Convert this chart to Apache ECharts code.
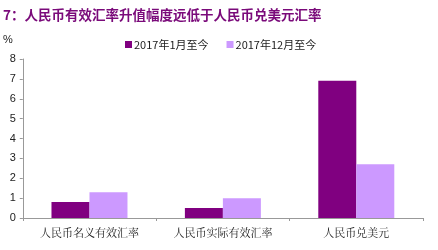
<!DOCTYPE html>
<html><head><meta charset="utf-8">
<script src="https://cdn.jsdelivr.net/npm/echarts@6/dist/echarts.min.js"></script>
<style>html,body{margin:0;padding:0;background:#fff}#c{width:438px;height:250px}</style>
</head><body><div id="c"></div>
<script>
const titleText = '7：人民币有效汇率升值幅度远低于人民币兑美元汇率';
const categories = ['人民币名义有效汇率', '人民币实际有效汇率', '人民币兑美元'];
const seriesNames = ['2017年1月至今', '2017年12月至今'];
const sinceJan2017 = [0.8, 0.5, 6.9];
const sinceDec2017 = [1.3, 1.0, 2.7];
const yTicks = [0, 1, 2, 3, 4, 5, 6, 7, 8];

const chart = echarts.init(document.getElementById('c'), null, {renderer: 'canvas'});
chart.setOption({
  animation: false,
  title: {
    text: titleText, left: -2, top: 3,
    textStyle: {color: '#7a0a7a', fontSize: 13.5, fontWeight: 'bold', fontFamily: 'Noto Sans CJK SC'}
  },
  legend: {
    top: 34, left: 120, itemWidth: 7, itemHeight: 7, itemGap: 18,
    icon: 'rect',
    textStyle: {fontSize: 11, color: '#222', fontFamily: 'Noto Sans CJK SC', padding: [0, 0, 0, -3]},
    data: seriesNames
  },
  grid: {left: 21, right: 15, top: 59, bottom: 32, containLabel: false},
  xAxis: {
    type: 'category', data: categories,
    axisLine: {lineStyle: {color: '#999'}},
    axisTick: {show: true, length: 3, lineStyle: {color: '#999'}},
    axisLabel: {fontSize: 11, color: '#222', margin: 9, fontFamily: 'Noto Serif CJK SC, Noto Sans CJK SC'}
  },
  yAxis: {
    type: 'value', min: yTicks[0], max: yTicks[yTicks.length - 1], interval: 1,
    name: '%', nameLocation: 'end', nameGap: 14,
    nameTextStyle: {fontSize: 11, color: '#222', align: 'right', padding: [0, 10, 0, 0]},
    axisLine: {show: true, lineStyle: {color: '#999'}},
    axisTick: {show: true, length: 3, lineStyle: {color: '#999'}},
    splitLine: {show: false},
    axisLabel: {fontSize: 11, color: '#222', margin: 7, fontFamily: 'Liberation Sans'}
  },
  series: [
    {name: seriesNames[0], type: 'bar', data: sinceJan2017, barWidth: 38, barGap: '0%', itemStyle: {color: '#800080'}},
    {name: seriesNames[1], type: 'bar', data: sinceDec2017, barWidth: 38, barGap: '0%', itemStyle: {color: '#cc99ff'}}
  ]
});
</script></body></html>
